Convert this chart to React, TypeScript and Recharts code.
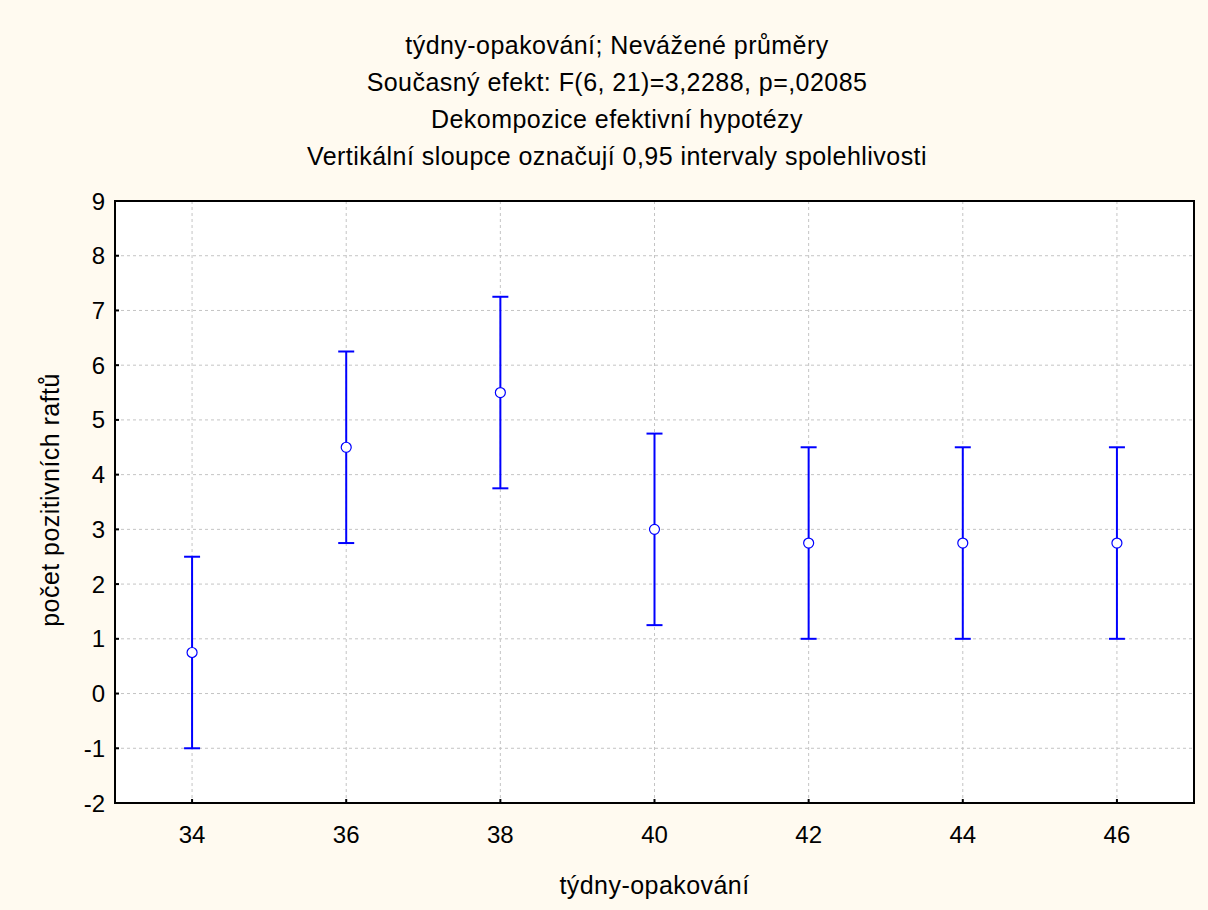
import { ComposedChart, Scatter, ErrorBar, XAxis, YAxis, CartesianGrid, ReferenceArea } from "recharts";

const weeks = [34, 36, 38, 40, 42, 44, 46];
const means = [0.75, 4.5, 5.5, 3.0, 2.75, 2.75, 2.75];
const lower = [-1.0, 2.75, 3.75, 1.25, 1.0, 1.0, 1.0];
const upper = [2.5, 6.25, 7.25, 4.75, 4.5, 4.5, 4.5];
const yTicks = [-2, -1, 0, 1, 2, 3, 4, 5, 6, 7, 8, 9];

const titleLines = [
  "týdny-opakování; Nevážené průměry",
  "Současný efekt: F(6, 21)=3,2288, p=,02085",
  "Dekompozice efektivní hypotézy",
  "Vertikální sloupce označují 0,95 intervaly spolehlivosti",
];

const data = weeks.map((w, i) => ({
  week: w,
  mean: means[i],
  ci: [means[i] - lower[i], upper[i] - means[i]],
}));

const font = "'Liberation Sans', Arial, sans-serif";
const BLUE = "#0000ff";
const tickStyle = { fontSize: 24, fill: "#000", fontFamily: font };
const frame = { stroke: "#000", strokeWidth: 2 };

function Marker(props: any) {
  const { cx, cy } = props;
  if (cx == null || cy == null) return null;
  return <circle cx={cx} cy={cy} r={5} fill="#fff" stroke={BLUE} strokeWidth={1.2} />;
}

const textStyle = { fontSize: 25, lineHeight: "30px", letterSpacing: "0.45px", color: "#000" };

export default function App() {
  return (
    <div style={{ position: "absolute", left: 0, top: 0, width: 1208, height: 910, background: "#fffaf0", fontFamily: font }}>
      {titleLines.map((t, i) => (
        <div key={t} style={{ ...textStyle, position: "absolute", left: 0, width: 1234, top: 30 + i * 37, textAlign: "center" }}>
          {t}
        </div>
      ))}
      <ComposedChart width={1208} height={910} data={data} margin={{ top: 201, right: 14, bottom: 57, left: 55 }}>
        <CartesianGrid stroke="#c4c4c4" strokeDasharray="3 3" fill="#fff" />
        <ReferenceArea x1={33} x2={47} y1={-2} y2={9} fill="none" stroke="#000" strokeWidth={2} ifOverflow="visible" />
        <XAxis
          dataKey="week"
          type="number"
          domain={[33, 47]}
          ticks={weeks}
          allowDataOverflow
          height={50}
          axisLine={frame}
          tickLine={frame}
          tickSize={-4}
          tickMargin={27}
          tick={tickStyle}
        />
        <YAxis
          type="number"
          domain={[-2, 9]}
          ticks={yTicks}
          allowDataOverflow
          width={60}
          axisLine={frame}
          tickLine={frame}
          tickSize={-4}
          tickMargin={14}
          tick={tickStyle}
        />
        <Scatter dataKey="mean" shape={<Marker />} isAnimationActive={false}>
          <ErrorBar dataKey="ci" direction="y" width={8} stroke={BLUE} strokeWidth={2} isAnimationActive={false} />
        </Scatter>
      </ComposedChart>
      <div style={{ ...textStyle, position: "absolute", left: 115, width: 1079, top: 870, textAlign: "center" }}>
        týdny-opakování
      </div>
      <div
        style={{
          ...textStyle,
          position: "absolute",
          left: 50,
          top: 500,
          transform: "translate(-50%, -50%) rotate(-90deg)",
          whiteSpace: "nowrap",
        }}
      >
        počet pozitivních raftů
      </div>
    </div>
  );
}
